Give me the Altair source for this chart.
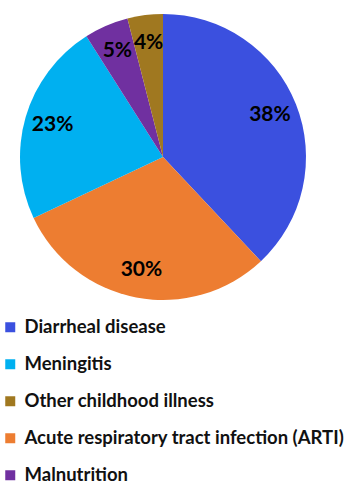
import altair as alt
import pandas as pd

categories = ["Diarrheal disease", "Acute respiratory tract infection (ARTI)", "Meningitis", "Malnutrition", "Other childhood illness"]
values = [38, 30, 23, 5, 4]
labels = ["38%", "30%", "23%", "5%", "4%"]
legend_order = ["Diarrheal disease", "Meningitis", "Other childhood illness",
                "Acute respiratory tract infection (ARTI)", "Malnutrition"]
colors = ["#3B50DF", "#00B0F0", "#A07820", "#ED7D31", "#7030A0"]

df = pd.DataFrame({"cause": categories, "value": values, "label": labels, "order": list(range(len(categories)))})

base = alt.Chart(df).encode(
    theta=alt.Theta("value:Q", stack=True),
    order=alt.Order("order:Q"),
    x=alt.value(163),
    y=alt.value(157),
)

pie = base.mark_arc(radius=143).encode(
    color=alt.Color(
        "cause:N",
        scale=alt.Scale(domain=legend_order, range=colors),
        legend=alt.Legend(
            orient="none", legendX=1, legendY=318, title=None, padding=0,
            symbolType="square", symbolSize=100, symbolStrokeWidth=0, symbolOpacity=1,
            labelFont="Lato", labelFontSize=18.5, labelFontWeight="bold", labelColor="#111111",
            labelLimit=400, rowPadding=18, labelOffset=5,
        ),
    )
)

text = base.mark_text(radius=115, font="Lato", fontSize=21, fontWeight="bold", color="#000000").encode(
    text="label:N"
)

chart = (pie + text).properties(
    width=349, height=484, padding=0,
    autosize=alt.AutoSizeParams(type="none"),
).configure_view(stroke=None)

chart.save("out.html", embed_options={"renderer": "svg", "actions": False})
